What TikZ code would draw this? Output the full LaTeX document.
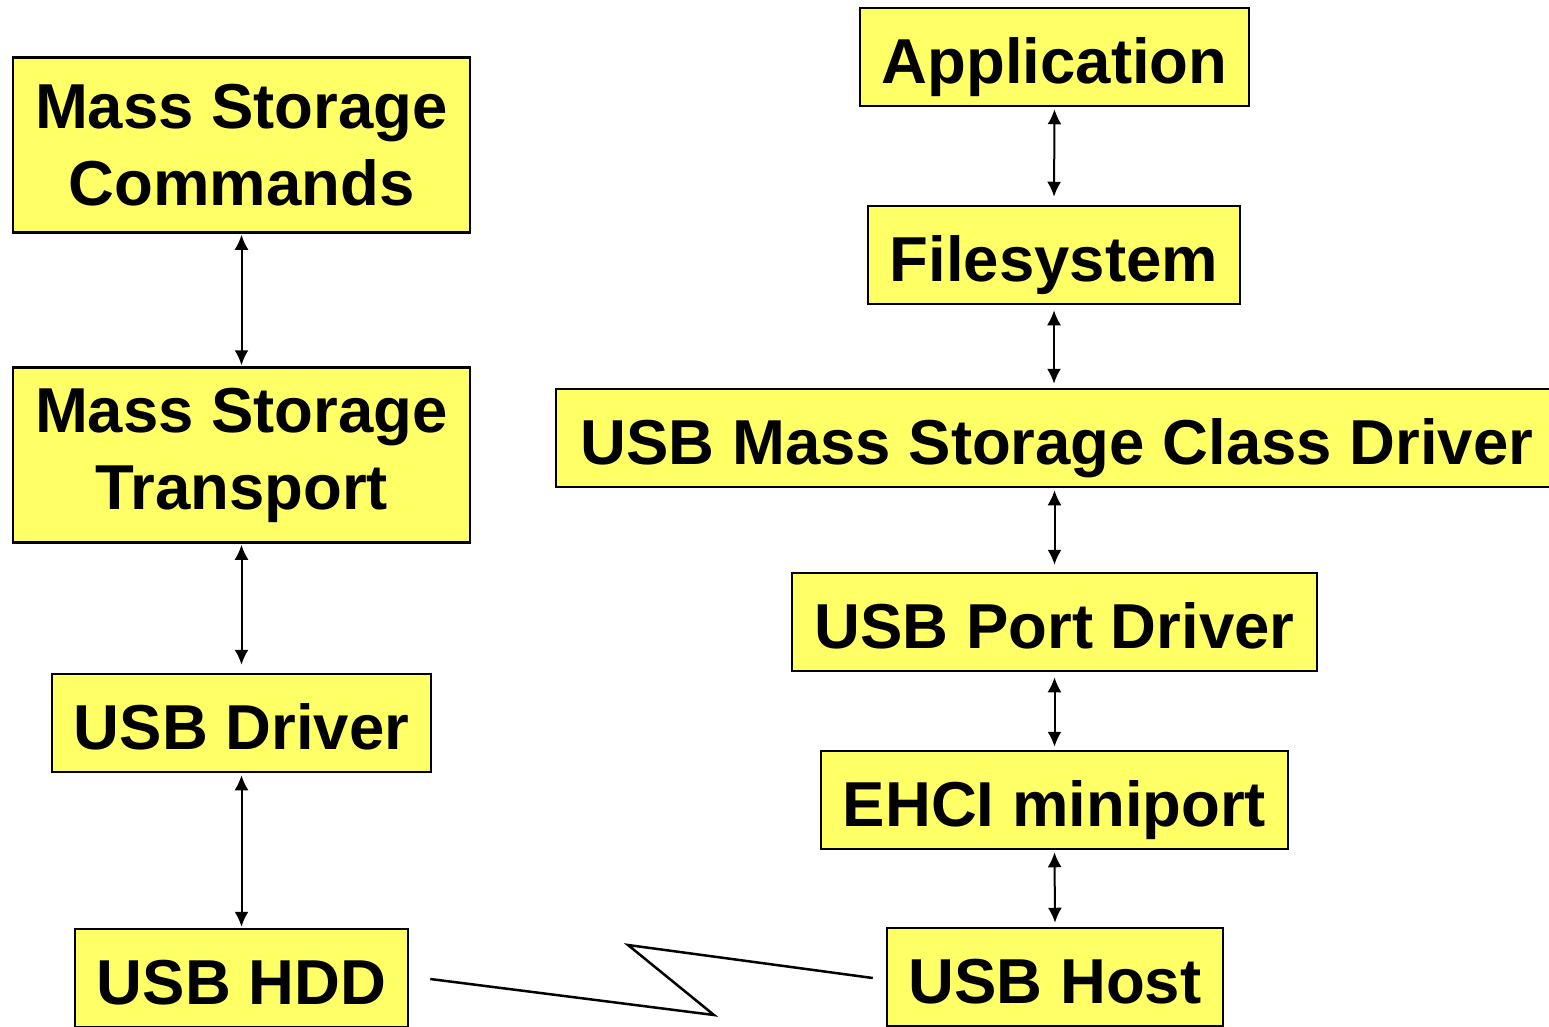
\documentclass[tikz,border=0pt]{standalone}
\usepackage{fontspec}
\setmainfont{Liberation Sans}
\usetikzlibrary{arrows.meta,calc}
\definecolor{boxyellow}{HTML}{FFFF66}
\tikzset{
  layer/.style={draw=black, line width=2.5pt, fill=boxyellow, inner sep=0pt, align=center,
    font=\fontsize{63.5}{77}\selectfont\bfseries},
  oneline/.style={layer, text height=66pt, text depth=14pt, minimum height=98pt},
  link/.style={line width=2pt, {Latex[length=15pt,width=14pt]}-{Latex[length=15pt,width=14pt]}},
  wire/.style={line width=2.5pt}
}
\begin{document}
\begin{tikzpicture}[x=1pt,y=-1pt]
\useasboundingbox (0,0) rectangle (1549,1026);
\clip (0,0) rectangle (1549,1026);
\fill[white] (0,0) rectangle (1549,1026);
% left column
\node[layer, minimum width=457pt, minimum height=175pt] (msc) at (241.5,145) {Mass Storage\\Commands};
\node[layer, minimum width=457pt, minimum height=175pt] (mst) at (241.5,455) {Mass Storage\\Transport};
\node[oneline, minimum width=379pt] (usbdrv) at (241.5,723) {USB Driver};
\node[oneline, minimum width=333pt] (hdd) at (241.5,978) {USB HDD};
% right column
\node[oneline, minimum width=389pt] (app) at (1054.5,57) {Application};
\node[oneline, minimum width=372pt] (fs) at (1054,255) {Filesystem};
\node[oneline, minimum width=1002pt] (cd) at (1057,438) {USB Mass Storage Class Driver};
\node[oneline, minimum width=525pt] (pd) at (1054.5,622) {USB Port Driver};
\node[oneline, minimum width=467pt] (ehci) at (1054.5,800) {EHCI miniport};
\node[oneline, minimum width=336pt] (host) at (1055,977) {USB Host};
% connectors left
\draw[link, shorten <=1pt, shorten >=1pt] (msc.south) -- (mst.north);
\draw[link, shorten <=1pt, shorten >=8pt] (mst.south) -- (usbdrv.north);
\draw[link, shorten <=2pt, shorten >=1pt] (usbdrv.south) -- (hdd.north);
% connectors right
\draw[link, shorten <=2pt, shorten >=8pt] (app.south) -- (fs.north);
\draw[link, shorten <=5pt, shorten >=4pt] (fs.south) -- (fs.south |- cd.north);
\draw[link, shorten <=2pt, shorten >=7pt] (pd.north |- cd.south) -- (pd.north);
\draw[link, shorten <=5pt, shorten >=3pt] (pd.south) -- (ehci.north);
\draw[link, shorten <=2pt, shorten >=4pt] (ehci.south) -- (host.north);
% lightning link
\coordinate (z1) at (714,1015);
\coordinate (z2) at (628,945);
\draw[wire, line join=miter] ($(hdd.east)+(21,1)$) -- (z1) -- (z2) -- ($(host.west)+(-13,1)$);
\end{tikzpicture}
\end{document}
